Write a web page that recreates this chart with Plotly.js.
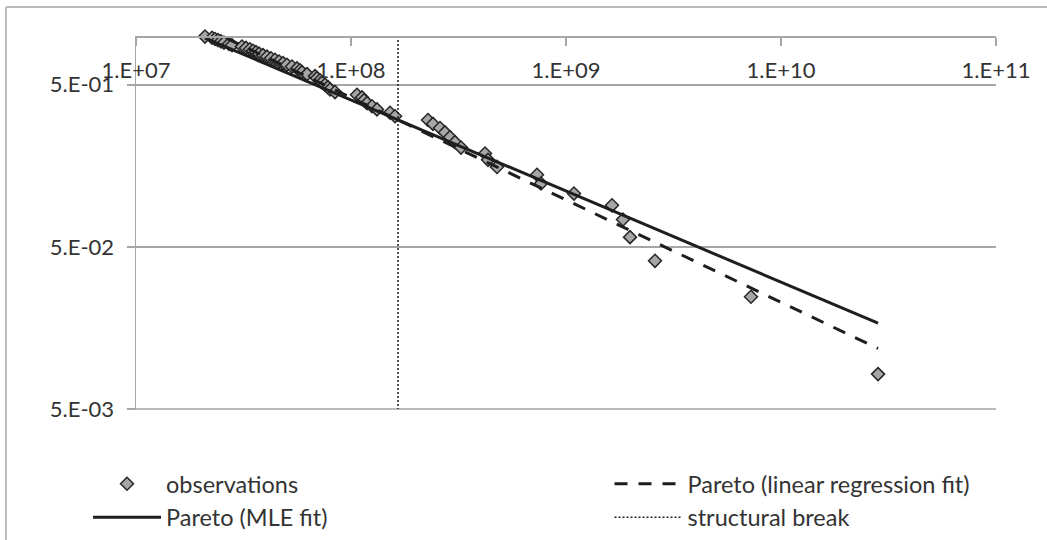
<!DOCTYPE html>
<html>
<head>
<meta charset="utf-8">
<script src="https://cdn.plot.ly/plotly-3.0.1.min.js"></script>
<style>
  html, body { margin: 0; padding: 0; background: #ffffff; }
  #chart { width: 1047px; height: 540px; }
</style>
</head>
<body>
<div id="chart"></div>
<script>
// Observed sizes (ascending) and their empirical exceedance shares
const obsSize = [
  2.094e7, 2.257e7, 2.330e7, 2.406e7, 2.485e7, 2.566e7, 2.707e7, 2.796e7, 3.112e7, 3.248e7,
  3.390e7, 3.501e7, 3.615e7, 3.734e7, 3.897e7, 4.068e7, 4.246e7, 4.432e7, 4.626e7, 4.828e7,
  5.039e7, 5.317e7, 5.609e7, 5.792e7, 5.918e7, 6.243e7, 6.802e7, 6.950e7, 7.176e7, 7.331e7,
  7.570e7, 7.816e7, 7.988e7, 8.425e7, 1.066e8, 1.125e8, 1.149e8, 1.187e8, 1.252e8, 1.321e8,
  1.519e8, 1.602e8, 2.281e8, 2.406e8, 2.594e8, 2.736e8, 2.887e8, 3.045e8, 3.248e8, 4.201e8,
  4.338e8, 4.776e8, 7.330e8, 7.650e8, 1.089e9, 1.637e9, 1.841e9, 1.985e9, 2.594e9, 7.253e9,
  2.827e10
];
const obsShare = [
  0.9918, 0.9754, 0.9590, 0.9426, 0.9262, 0.9098, 0.8934, 0.8770, 0.8607, 0.8443,
  0.8279, 0.8115, 0.7951, 0.7787, 0.7623, 0.7459, 0.7295, 0.7131, 0.6967, 0.6803,
  0.6639, 0.6475, 0.6311, 0.6148, 0.5984, 0.5820, 0.5656, 0.5492, 0.5328, 0.5164,
  0.5000, 0.4836, 0.4672, 0.4508, 0.4344, 0.4180, 0.4016, 0.3852, 0.3689, 0.3525,
  0.3361, 0.3197, 0.3033, 0.2869, 0.2705, 0.2541, 0.2377, 0.2213, 0.2049, 0.1885,
  0.1721, 0.1557, 0.1393, 0.1230, 0.1066, 0.0902, 0.0738, 0.0574, 0.0410, 0.0246,
  0.0082
];

// Fitted Pareto tails (straight lines on log-log axes)
const mleSize = [2.094e7, 2.827e10];
const mleShare = [0.97, 0.0169];
const lrSize = [2.094e7, 2.827e10];
const lrShare = [1.12, 0.0118];

// Structural break position
const breakSize = [1.654e8, 1.654e8];
const breakShare = [1, 0.005];

const xTickVals = [1e7, 1e8, 1e9, 1e10, 1e11];
const xTickText = ['1.E+07', '1.E+08', '1.E+09', '1.E+10', '1.E+11'];
const yTickVals = [0.005, 0.05, 0.5];
const yTickText = ['5.E-03', '5.E-02', '5.E-01'];

const FONT = 'Lato, "Open Sans", sans-serif';
const TEXT = '#333333';
const AXIS = '#a6a6a6';
const INK = '#1e1e1e';

const traces = [
  {
    x: obsSize, y: obsShare, type: 'scatter', mode: 'markers',
    name: 'observations', legend: 'legend', legendgroup: 'a', cliponaxis: false,
    marker: { symbol: 'diamond', size: 10, color: '#a6a6a6', line: { color: '#262626', width: 1.5 } }
  },
  {
    x: mleSize, y: mleShare, type: 'scatter', mode: 'lines',
    name: 'Pareto (MLE fit)', legend: 'legend', legendgroup: 'b',
    line: { color: INK, width: 3 }
  },
  {
    x: lrSize, y: lrShare, type: 'scatter', mode: 'lines',
    name: 'Pareto (linear regression fit)', legend: 'legend2', legendgroup: 'c',
    line: { color: INK, width: 3, dash: '13px,11px' }
  },
  {
    x: breakSize, y: breakShare, type: 'scatter', mode: 'lines',
    name: 'structural break', legend: 'legend2', legendgroup: 'd',
    line: { color: INK, width: 1.5, dash: '2px,2px' }
  }
];

const legendBase = {
  orientation: 'v', yanchor: 'top', xanchor: 'left', y: -0.142,
  itemwidth: 68, tracegroupgap: 13, traceorder: 'normal',
  bgcolor: 'rgba(0,0,0,0)', font: { family: FONT, size: 23.5, color: TEXT }
};

const layout = {
  width: 1047, height: 540,
  margin: { l: 136, r: 51, t: 36, b: 131, autoexpand: false },
  paper_bgcolor: '#ffffff', plot_bgcolor: '#ffffff',
  font: { family: FONT, size: 22, color: TEXT },
  showlegend: true,
  xaxis: {
    type: 'log', range: [7, 11],
    anchor: 'free', position: 1, side: 'bottom',
    tickvals: xTickVals, ticktext: xTickText,
    showline: true, linecolor: AXIS, linewidth: 1.5,
    ticks: 'outside', ticklen: 8, tickwidth: 1.5, tickcolor: AXIS,
    ticklabelstandoff: 6,
    showgrid: false, zeroline: false,
    tickfont: { family: FONT, size: 22, color: TEXT }
  },
  yaxis: {
    type: 'log', range: [Math.log10(0.005) - 0.0004, 0],
    tickvals: yTickVals, ticktext: yTickText,
    showline: true, linecolor: AXIS, linewidth: 1.5,
    ticks: 'outside', ticklen: 8, tickwidth: 1.5, tickcolor: AXIS,
    ticklabelstandoff: 8,
    showgrid: true, gridcolor: AXIS, gridwidth: 1.5, zeroline: false,
    tickfont: { family: FONT, size: 22, color: TEXT }
  },
  legend: Object.assign({}, legendBase, { x: -0.0558 }),
  legend2: Object.assign({}, legendBase, { x: 0.5506 }),
  shapes: [
    // chart frame (top and left edges)
    { type: 'line', xref: 'paper', yref: 'paper', x0: -0.1512, x1: 1.1, y0: 1.0777, y1: 1.0777,
      line: { color: AXIS, width: 1.5 } },
    { type: 'line', xref: 'paper', yref: 'paper', x0: -0.1512, x1: -0.1512, y0: 1.0777, y1: -0.4,
      line: { color: AXIS, width: 1.5 } },
    // lowest horizontal rule at the bottom of the plot area
    { type: 'line', xref: 'paper', yref: 'paper', x0: -0.0093, x1: 1, y0: 0.0002, y1: 0.0002,
      line: { color: AXIS, width: 1.5 }, layer: 'below' }
  ]
};

Plotly.newPlot('chart', traces, layout, { displayModeBar: false, staticPlot: true });
</script>
</body>
</html>
